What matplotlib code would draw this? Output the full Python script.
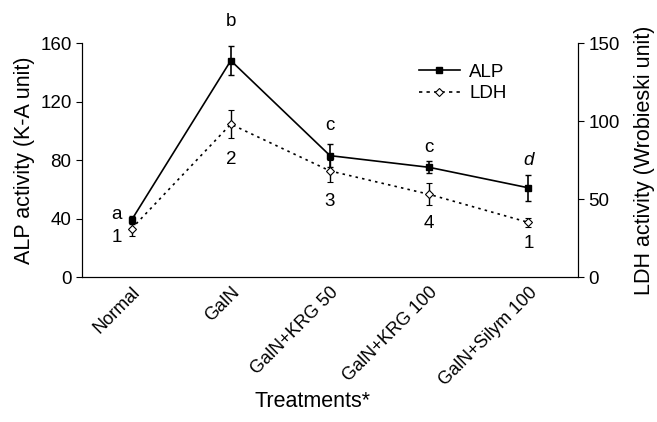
import matplotlib
matplotlib.use("Agg")
import matplotlib.pyplot as plt
from matplotlib.lines import Line2D

plt.rcParams['font.family'] = ['Liberation Sans', 'DejaVu Sans']

categories = ["Normal", "GalN", "GalN+KRG 50", "GalN+KRG 100", "GalN+Silym 100"]
alp = [39, 148, 83, 75, 61]
alp_err = [3, 10, 8, 4, 9]
ldh = [31, 98, 68, 53, 35]
ldh_err = [5, 9, 7, 7, 3]
alp_letters = ["a", "b", "c", "c", "d"]
ldh_letters = ["1", "2", "3", "4", "1"]

fig = plt.figure(figsize=(6.57, 4.22), dpi=100)
ax = fig.add_axes([0.1248, 0.3436, 0.7550, 0.5544])
ax2 = ax.twinx()

x = list(range(len(categories)))
ldh_ls = (0, (1.5, 2.5))
ax.errorbar(x, alp, yerr=alp_err, color='black', lw=1.2, marker='s', ms=5,
            mfc='black', mec='black', capsize=2.5, elinewidth=1.2, zorder=3)
ax2.errorbar(x, ldh, yerr=ldh_err, color='black', lw=1.2, ls=ldh_ls, marker='D', ms=4.5,
             mfc='white', mec='black', mew=0.8, capsize=2.5, elinewidth=1.0, zorder=3)

ax.set_xlim(-0.5, 4.5)
ax.set_ylim(0, 160)
ax2.set_ylim(0, 150)
ax.set_yticks([0, 40, 80, 120, 160])
ax2.set_yticks([0, 50, 100, 150])
ax.set_xticks(x)
ax.set_xticklabels(categories, rotation=45, ha='right', rotation_mode='anchor', fontsize=13)
ax.tick_params(axis='x', length=0, pad=5)
ax.tick_params(axis='y', labelsize=13.5, direction='out', length=4)
ax2.tick_params(axis='y', labelsize=13.5, direction='out', length=4)
for a in (ax, ax2):
    a.spines['top'].set_visible(False)
ax.set_ylabel("ALP activity (K-A unit)", fontsize=15.5)
ax2.set_ylabel("LDH activity (Wrobieski unit)", fontsize=15.5)
ax2.yaxis.set_label_coords(1.135, 0.5)
ax2.yaxis.label.set_va('center')
ax.set_xlabel("Treatments*", fontsize=15.5)
ax.xaxis.set_label_coords(0.464, -0.534)
ax.xaxis.label.set_va('center')

# letter annotations (ALP), bottom of letter relative to mean
alp_dx = [-0.15, 0, 0, 0, 0]
alp_dy = [-2, 21, 15, 8, 13]
for i, lt in enumerate(alp_letters):
    ax.text(i + alp_dx[i], alp[i] + alp_dy[i], lt, ha='center', va='bottom', clip_on=False,
            fontsize=13.5, style='italic' if lt == 'd' else 'normal')
# number annotations (LDH), top of number relative to mean
ldh_dx = [-0.15, 0, 0, 0, 0]
ldh_dy = [0, -17, -14, -13, -8]
for i, lt in enumerate(ldh_letters):
    ax2.text(i + ldh_dx[i], ldh[i] + ldh_dy[i], lt, ha='center', va='top', fontsize=13.5)

handles = [Line2D([], [], color='black', lw=1.2, marker='s', ms=5, mfc='black'),
           Line2D([], [], color='black', lw=1.2, ls=(0, (2, 2.5)), marker='D', ms=4.5,
                  mfc='white', mew=0.8)]
ax.legend(handles, ['ALP', 'LDH'], loc='upper left', bbox_to_anchor=(0.645, 0.985), frameon=False,
          fontsize=13.5, handlelength=2.2, labelspacing=0.25, handletextpad=0.5)

fig.savefig("out.png", dpi=100)
